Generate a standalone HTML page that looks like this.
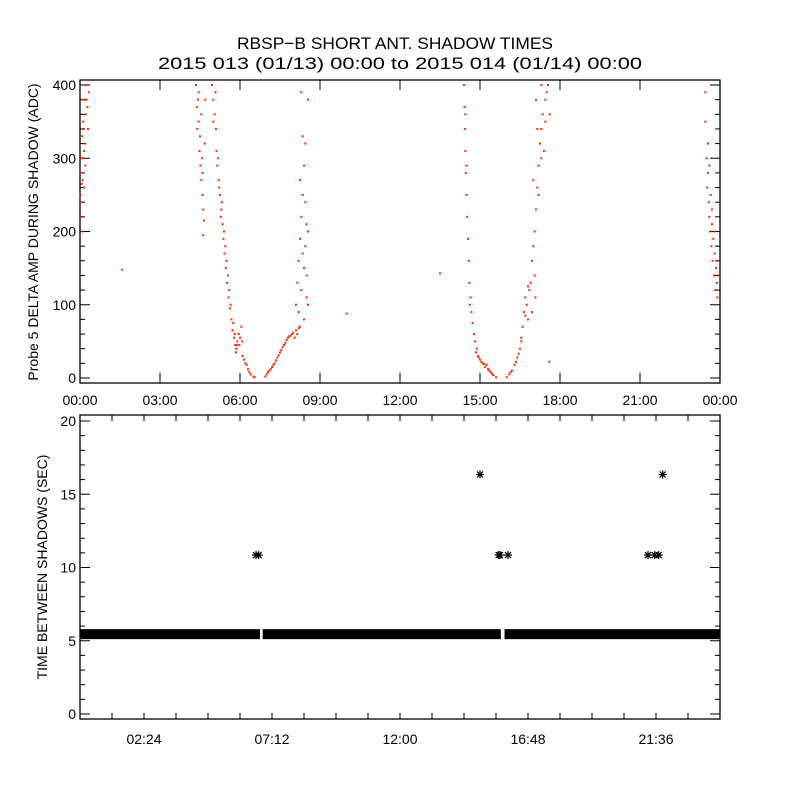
<!DOCTYPE html>
<html><head><meta charset="utf-8"><style>
html,body{margin:0;padding:0;background:#fff}
svg{display:block}
text{font-family:"Liberation Sans",sans-serif;fill:#000}
</style></head><body>
<svg id="c" width="800" height="800" viewBox="0 0 800 800">
<text x="395" y="49" font-size="17" text-anchor="middle" textLength="316" lengthAdjust="spacingAndGlyphs">RBSP−B SHORT ANT. SHADOW TIMES</text>
<text x="400" y="69" font-size="17" text-anchor="middle" textLength="484" lengthAdjust="spacingAndGlyphs">2015 013 (01/13) 00:00 to 2015 014 (01/14) 00:00</text>
<g id="top"></g>
<g id="bot"></g>
</svg>
<script>
// Top panel data: [hour, delta amp ADC]
const ampPoints = [
[0.02,250],[0.05,300],[0.08,330],[0.1,270],[0.12,350],[0.15,310],[0.18,380],[0.2,290],[0.22,360],[0.25,400],[0.28,370],[0.3,340],[0.05,220],[0.1,200],[0.15,260],[0.2,320],[0.33,390],[0.08,380],[0.12,300],[0.03,280],[0.04,240],[0.14,340],[0.24,380],[0.06,265],
[4.35,400],[4.38,370],[4.4,340],[4.42,380],[4.45,350],[4.48,310],[4.5,330],[4.52,290],[4.55,270],[4.58,300],[4.6,250],[4.62,230],[4.65,215],[4.55,360],[4.45,390],[4.6,280],[4.68,320],[4.7,380],[4.62,195],
[4.95,400],[5.0,380],[5.05,360],[5.1,340],[5.12,310],[5.15,290],[5.2,270],[5.25,250],[5.3,230],[5.35,210],[5.38,190],[5.42,170],[5.47,150],[5.52,130],[5.57,110],[5.62,95],[5.68,80],[5.72,65],[5.78,55],[5.82,45],[5.86,40],[5.9,50],[5.95,60],[6.0,55],[6.05,70],[6.08,50],[6.1,30],[6.15,25],[6.2,20],[6.3,12],[6.4,5],[6.5,2],[6.55,1],[5.0,350],[5.08,390],[5.18,300],[5.28,220],[5.4,200],[5.5,160],[5.6,120],[5.75,75],[5.85,35],[6.25,18],[6.35,8],[5.22,260],[5.32,240],[5.45,180],[5.55,140],[5.65,100],[5.8,60],[5.88,45],[5.98,45],
[6.95,2],[7.0,5],[7.1,10],[7.2,15],[7.3,20],[7.4,28],[7.5,35],[7.6,42],[7.7,48],[7.8,55],[7.9,58],[8.0,62],[8.1,65],[8.2,68],[8.25,70],[7.25,18],[7.55,38],[7.85,57],[8.05,55],[7.05,8],[7.15,12],[7.35,24],[7.45,31],[7.65,45],[7.75,52],[7.95,60],[8.15,60],
[8.1,100],[8.15,130],[8.2,160],[8.25,190],[8.3,220],[8.35,250],[8.4,290],[8.45,320],[8.3,120],[8.4,150],[8.45,180],[8.5,210],[8.5,110],[8.55,380],[8.3,390],[8.35,330],[8.2,90],[8.45,240],[8.55,200],[8.5,140],[8.4,80],[8.25,270],[8.35,170],[8.55,100],
[1.58,148],[10.0,88],[13.5,143],
[14.4,400],[14.42,370],[14.43,340],[14.45,310],[14.47,280],[14.5,250],[14.52,220],[14.55,190],[14.58,160],[14.6,130],[14.65,110],[14.68,90],[14.72,75],[14.78,60],[14.82,50],[14.88,40],[14.92,30],[15.0,25],[15.1,20],[15.2,15],[15.3,12],[15.4,8],[15.5,4],[15.6,1],[14.45,360],[14.5,290],[14.62,100],[14.85,35],[15.05,22],[15.25,18],[14.95,28],[15.15,19],[15.35,10],[15.45,6],
[16.0,1],[16.1,5],[16.2,10],[16.3,18],[16.4,28],[16.5,40],[16.55,55],[16.6,70],[16.65,90],[16.7,110],[16.75,100],[16.8,80],[16.85,120],[16.7,85],[16.9,130],[16.95,160],[17.0,180],[17.05,200],[17.1,230],[17.15,260],[17.2,290],[17.25,320],[17.3,340],[17.35,360],[17.45,380],[17.55,400],[17.15,340],[17.3,300],[17.4,310],[17.45,350],[17.2,250],[17.05,140],[16.55,50],[17.08,110],[17.5,390],[16.95,90],[17.62,360],[17.1,380],[17.3,400],[17.0,270],[16.15,8],[16.35,22],[16.45,33],[16.8,125],[17.6,22],
[23.45,390],[23.45,350],[23.5,300],[23.52,260],[23.55,280],[23.58,240],[23.6,220],[23.62,200],[23.65,250],[23.68,180],[23.7,210],[23.72,160],[23.75,190],[23.78,140],[23.8,170],[23.82,120],[23.85,150],[23.88,130],[23.9,110],[23.55,320],[23.6,290],[23.7,230],[23.8,200],[23.9,160],[23.95,140]
];
const topYTicks = [0,100,200,300,400];
const topXLabels = ["00:00","03:00","06:00","09:00","12:00","15:00","18:00","21:00","00:00"];
// Bottom panel data
const bandSegments = [[0,6.75],[6.85,15.78],[15.92,24]];
const bandValue = 5.45;
const starHours = [6.6,6.7,15.7,15.75,16.05,21.3,21.55,21.7,15.0,21.85];
const starValues = [10.85,10.85,10.85,10.85,10.85,10.85,10.85,10.85,16.35,16.35];
const botYTicks = [0,5,10,15,20];
const botXLabels = ["02:24","07:12","12:00","16:48","21:36"];

const NS="http://www.w3.org/2000/svg";
function mk(p,tag,a){const e=document.createElementNS(NS,tag);for(const k in a)e.setAttribute(k,a[k]);p.appendChild(e);return e;}
const L=80,R=720;
const xS=h=>L+h*(R-L)/24;
// top
const tg=document.getElementById('top');
const T0=80,T1=383;
const yT=v=>378-v*0.7325;
mk(tg,'rect',{x:L,y:T0,width:R-L,height:T1-T0,fill:'none',stroke:'#000','stroke-width':1.3});
for(let v=0;v<=400;v+=20){const maj=v%100===0;const len=maj?10:5;const y=yT(v);
 mk(tg,'line',{x1:L,x2:L+len,y1:y,y2:y,stroke:'#000'});mk(tg,'line',{x1:R,x2:R-len,y1:y,y2:y,stroke:'#000'});}
topYTicks.forEach(v=>{const t=mk(tg,'text',{x:L-4,y:yT(v)+5,'font-size':14,'text-anchor':'end'});t.textContent=v;
 
 });
topXLabels.forEach((s,i)=>{const x=xS(i*3);mk(tg,'line',{x1:x,x2:x,y1:T1,y2:T1-10,stroke:'#000'});mk(tg,'line',{x1:x,x2:x,y1:T0,y2:T0+10,stroke:'#000'});
 const t=mk(tg,'text',{x:x,y:405,'font-size':14,'text-anchor':'middle'});t.textContent=s;
 
 });
const yl=mk(tg,'text',{x:0,y:0,'font-size':14,'text-anchor':'middle',transform:'translate(38,232) rotate(-90)'});yl.textContent='Probe 5 DELTA AMP DURING SHADOW (ADC)';


ampPoints.forEach(p=>{const r=mk(tg,'rect',{x:xS(p[0])-1,y:yT(p[1])-1,width:2,height:2,fill:'#ff2a00'});
 
 });
// bottom
const bg=document.getElementById('bot');
const B0=415,B1=719;
const yB=v=>714-v*14.65;
mk(bg,'rect',{x:L,y:B0,width:R-L,height:B1-B0,fill:'none',stroke:'#000','stroke-width':1.3});
for(let v=0;v<=20;v++){const maj=v%5===0;const len=maj?10:5;const y=yB(v);
 mk(bg,'line',{x1:L,x2:L+len,y1:y,y2:y,stroke:'#000'});mk(bg,'line',{x1:R,x2:R-len,y1:y,y2:y,stroke:'#000'});}
botYTicks.forEach(v=>{const t=mk(bg,'text',{x:L-4,y:yB(v)+5,'font-size':14,'text-anchor':'end'});t.textContent=v;
 
 });
for(let h=1.2;h<24;h+=1.2){const x=xS(h);mk(bg,'line',{x1:x,x2:x,y1:B1,y2:B1-6,stroke:'#000'});mk(bg,'line',{x1:x,x2:x,y1:B0,y2:B0+6,stroke:'#000'});}
botXLabels.forEach((s,i)=>{const t=mk(bg,'text',{x:xS(2.4+i*4.8),y:744,'font-size':14,'text-anchor':'middle'});t.textContent=s;
 
 });
const yl2=mk(bg,'text',{x:0,y:0,'font-size':14,'text-anchor':'middle',transform:'translate(47,567) rotate(-90)'});yl2.textContent='TIME BETWEEN SHADOWS (SEC)';


bandSegments.forEach(s=>{const r=mk(bg,'rect',{x:xS(s[0]),y:yB(bandValue)-5,width:xS(s[1])-xS(s[0]),height:10,fill:'#000'});
 
 });
starHours.forEach((h,i)=>{const cx=xS(h),cy=yB(starValues[i]);const g=mk(bg,'g',{stroke:'#000','stroke-width':1.2});
 
 
 mk(g,'line',{x1:cx-4,x2:cx+4,y1:cy,y2:cy});mk(g,'line',{x1:cx,x2:cx,y1:cy-4,y2:cy+4});
 mk(g,'line',{x1:cx-3,x2:cx+3,y1:cy-3,y2:cy+3});mk(g,'line',{x1:cx-3,x2:cx+3,y1:cy+3,y2:cy-3});});
</script>
</body></html>
